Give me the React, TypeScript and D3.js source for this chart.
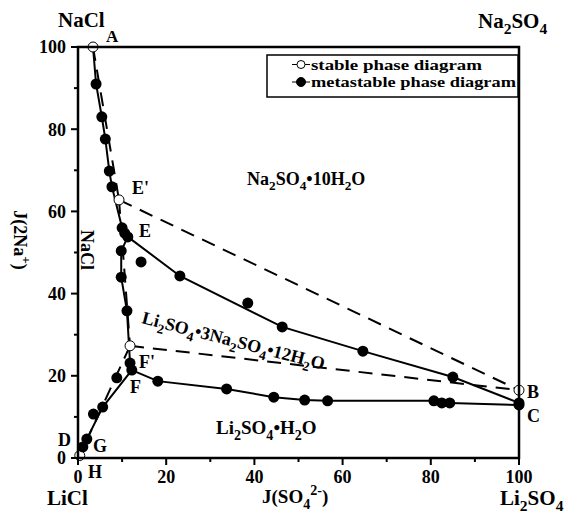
import React, { useRef, useEffect } from "react"
import * as d3 from "d3"

// ---- data (J values, %) ----
const xTicks = [0, 20, 40, 60, 80, 100]
const yTicks = [0, 20, 40, 60, 80, 100]
const minorTicks = [10, 30, 50, 70, 90]

// stable system (open circles, dashed lines)
const stableAE: [number, number][] = [[3.4, 100], [9.3, 62.8]]
const stableEB: [number, number][] = [[9.3, 62.8], [100, 16.5]]
const stableEF: [number, number][] = [[9.3, 62.8], [11.8, 27.3]]
const stableFB: [number, number][] = [[11.8, 27.3], [100, 16.5]]
const stableFD: [number, number][] = [[11.8, 27.3], [0.4, 0.6]]
const stablePoints: [number, number][] = [[3.4, 100], [9.3, 62.8], [11.8, 27.3], [100, 16.5], [0.4, 0.6]]

// metastable system (filled circles, solid lines)
const metaAE: [number, number][] = [[3.4, 100], [4.1, 91], [5.4, 83], [6.2, 77.6], [7.1, 69.8], [7.7, 66], [10.0, 56], [10.6, 54.7], [11.3, 53.8]]
const metaEC: [number, number][] = [[11.3, 53.8], [23.1, 44.3], [46.3, 31.9], [64.6, 26.0], [85.0, 19.7], [100, 13.4]]
const metaEF: [number, number][] = [[11.3, 53.8], [9.8, 50.4], [9.8, 44.0], [11.1, 35.8], [11.8, 23.1], [12.2, 21.4]]
const metaFC: [number, number][] = [[12.2, 21.4], [18.1, 18.7], [33.7, 16.8], [44.4, 14.8], [51.4, 14.1], [56.6, 13.9], [80.7, 13.9], [82.5, 13.4], [84.3, 13.4], [100, 12.9]]
const metaFD: [number, number][] = [[12.2, 21.4], [5.6, 12.4], [2.0, 4.6], [1.1, 2.7], [0.4, 0.6]]
const metaLoose: [number, number][] = [[14.3, 47.7], [38.5, 37.7], [8.8, 19.5], [3.5, 10.7]]

const legendLabels = ["stable phase diagram", "metastable phase diagram"]

const W = 573, H = 515
const X0 = 78, X1 = 519, Y0 = 458, Y1 = 47
const FONT = "'Liberation Serif', 'Times New Roman', serif"

// "_x" = subscript char, "^{..}" = superscript
function parseRich(s: string) {
  const segs: [string, number][] = []
  let i = 0
  const push = (t: string, l: number) => {
    const last = segs[segs.length - 1]
    if (last && last[1] === l) last[0] += t
    else segs.push([t, l])
  }
  while (i < s.length) {
    const c = s[i]
    if (c === "_") { push(s[i + 1], -1); i += 2 }
    else if (c === "^" && s[i + 1] === "{") {
      const j = s.indexOf("}", i)
      push(s.slice(i + 2, j), 1); i = j + 1
    } else { push(c, 0); i++ }
  }
  return segs
}

function richText(g: any, str: string, size: number) {
  const t = g.append("text")
    .attr("font-family", FONT)
    .attr("font-weight", "bold")
    .attr("font-size", size)
    .attr("fill", "#000")
  let shift = 0
  parseRich(str).forEach(([s, l]) => {
    const target = l === -1 ? size * 0.3 : l === 1 ? -size * 0.42 : 0
    t.append("tspan")
      .attr("dy", target - shift)
      .attr("font-size", l ? size * 0.74 : size)
      .text(s)
    shift = target
  })
  return t
}

const App = () => {
  const ref = useRef<SVGSVGElement>(null)

  useEffect(() => {
    const svg = d3.select(ref.current)
    svg.selectAll("*").remove()

    const x = d3.scaleLinear().domain([0, 100]).range([X0, X1])
    const y = d3.scaleLinear().domain([0, 100]).range([Y0, Y1])

    const line = d3.line<[number, number]>().x(d => x(d[0])).y(d => y(d[1]))

    // metastable solid lines
    ;[metaAE, metaEC, metaEF, metaFC, metaFD].forEach(c => {
      svg.append("path").attr("d", line(c))
        .attr("fill", "none").attr("stroke", "#000").attr("stroke-width", 2)
    })
    // stable dashed lines
    ;[stableAE, stableEB, stableEF, stableFB, stableFD].forEach(c => {
      svg.append("path").attr("d", line(c))
        .attr("fill", "none").attr("stroke", "#000").attr("stroke-width", 2)
        .attr("stroke-dasharray", "14,9")
    })

    // stable points (open) first, metastable (filled) on top
    svg.selectAll(".sp").data(stablePoints).enter().append("circle")
      .attr("cx", d => x(d[0])).attr("cy", d => y(d[1])).attr("r", 5)
      .attr("fill", "#fff").attr("stroke", "#000").attr("stroke-width", 1)
    // skip A and D which are the shared binary points
    const filled = [...metaAE.slice(1), ...metaEC.slice(1), ...metaEF.slice(1), ...metaFC.slice(1), ...metaFD.slice(1, -1), ...metaLoose]
    svg.selectAll(".mp").data(filled).enter().append("circle")
      .attr("cx", d => x(d[0])).attr("cy", d => y(d[1])).attr("r", 5.5)
      .attr("fill", "#000")

    // frame
    svg.append("rect")
      .attr("x", X0).attr("y", Y1)
      .attr("width", X1 - X0).attr("height", Y0 - Y1)
      .attr("fill", "none").attr("stroke", "#000").attr("stroke-width", 2.5)

    // axes ticks
    const ax = svg.append("g")
    ax.selectAll(".xt").data(xTicks).enter().append("line")
      .attr("x1", d => x(d)).attr("x2", d => x(d))
      .attr("y1", Y0).attr("y2", Y0 + 7)
      .attr("stroke", "#000").attr("stroke-width", 2)
    ax.selectAll(".xm").data(minorTicks).enter().append("line")
      .attr("x1", d => x(d)).attr("x2", d => x(d))
      .attr("y1", Y0).attr("y2", Y0 + 4)
      .attr("stroke", "#000").attr("stroke-width", 2)
    ax.selectAll(".yt").data(yTicks).enter().append("line")
      .attr("y1", d => y(d)).attr("y2", d => y(d))
      .attr("x1", X0).attr("x2", X0 - 7)
      .attr("stroke", "#000").attr("stroke-width", 2)
    ax.selectAll(".ym").data(minorTicks).enter().append("line")
      .attr("y1", d => y(d)).attr("y2", d => y(d))
      .attr("x1", X0).attr("x2", X0 - 4)
      .attr("stroke", "#000").attr("stroke-width", 2)

    ax.selectAll(".xl").data(xTicks).enter().append("text")
      .attr("x", d => x(d)).attr("y", 483)
      .attr("text-anchor", "middle")
      .attr("font-family", FONT).attr("font-weight", "bold").attr("font-size", 18)
      .text(d => d)
    ax.selectAll(".yl").data(yTicks).enter().append("text")
      .attr("x", 66).attr("y", d => y(d)).attr("dy", "0.35em")
      .attr("text-anchor", "end")
      .attr("font-family", FONT).attr("font-weight", "bold").attr("font-size", 18)
      .text(d => d)

    // legend
    const lg = svg.append("g")
    lg.append("rect").attr("x", 267).attr("y", 55).attr("width", 251).attr("height", 42)
      .attr("fill", "#fff").attr("stroke", "#000").attr("stroke-width", 1.5)
    legendLabels.forEach((label, i) => {
      const cy = 64.5 + i * 17.5
      const solid = i === 1
      lg.append("line").attr("x1", 292).attr("x2", 310).attr("y1", cy).attr("y2", cy)
        .attr("stroke", "#000").attr("stroke-width", 1)
      lg.append("circle").attr("cx", 301).attr("cy", cy).attr("r", solid ? 4.5 : 4)
        .attr("fill", solid ? "#000" : "#fff").attr("stroke", "#000").attr("stroke-width", 1)
      lg.append("text").attr("x", 311).attr("y", cy + 5)
        .attr("font-family", FONT).attr("font-weight", "bold").attr("font-size", 15)
        .attr("textLength", solid ? 205 : 171).attr("lengthAdjust", "spacingAndGlyphs")
        .text(label)
    })

    // corner / axis labels
    richText(svg, "NaCl", 21).attr("x", 58).attr("y", 27)
    richText(svg, "A", 17).attr("x", 106).attr("y", 42)
    richText(svg, "Na_2SO_4", 21).attr("x", 478).attr("y", 28)
    richText(svg, "LiCl", 21).attr("x", 47).attr("y", 505)
    richText(svg, "Li_2SO_4", 21).attr("x", 500).attr("y", 505)
    richText(svg, "J(SO_4^{2-})", 19).attr("x", 262).attr("y", 503)
    richText(svg, "J(2Na^{+})", 18).attr("text-anchor", "middle")
      .attr("transform", "translate(14,240) rotate(90)")
    richText(svg, "NaCl", 18).attr("text-anchor", "middle")
      .attr("transform", "translate(81,250) rotate(90)")

    // phase field labels
    richText(svg, "Na_2SO_4•10H_2O", 18).attr("x", 247).attr("y", 185)
    richText(svg, "Li_2SO_4•3Na_2SO_4•12H_2O", 18)
      .attr("transform", "translate(141,323) rotate(14.4)")
    richText(svg, "Li_2SO_4•H_2O", 19).attr("x", 216).attr("y", 434)

    // invariant point labels
    const pts: [string, number, number][] = [
      ["E'", 132, 194], ["E", 139, 237], ["F'", 139, 368], ["F", 130, 393],
      ["D", 58, 446], ["G", 93, 452], ["H", 88, 478], ["B", 527, 398], ["C", 527, 422],
    ]
    pts.forEach(([s, px, py]) => richText(svg, s, 18).attr("x", px).attr("y", py))
  }, [])

  return (
    <svg ref={ref} width={W} height={H}
      style={{ position: "absolute", left: 0, top: 0, background: "#fff" }} />
  )
}

export default App
